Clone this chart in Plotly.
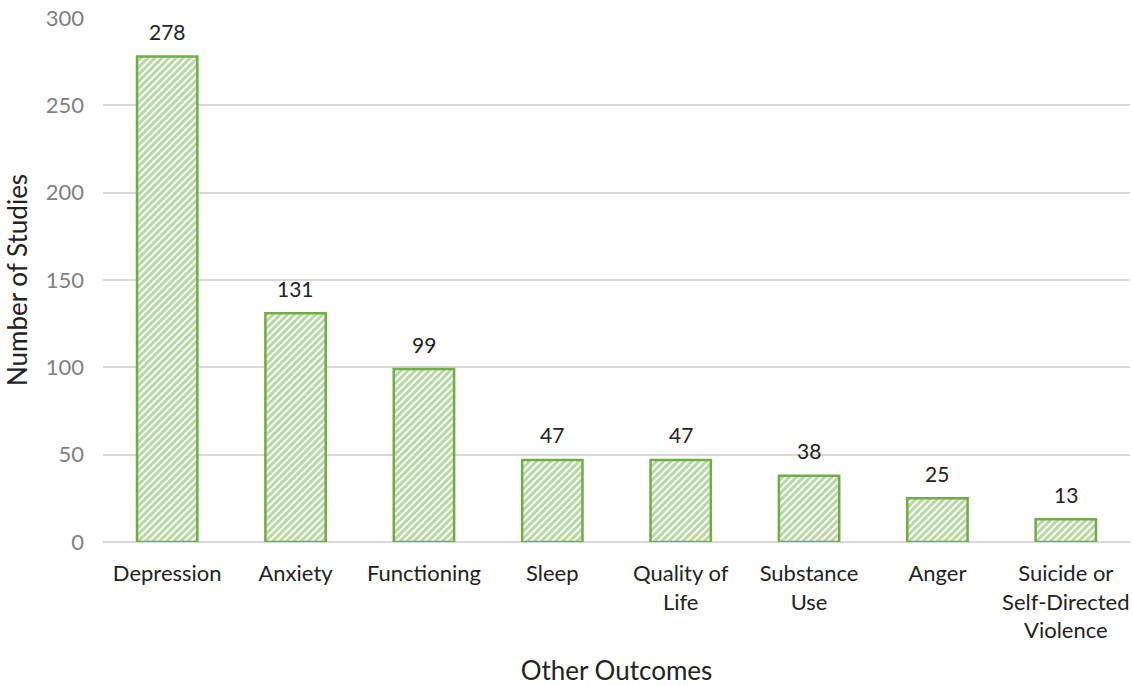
import plotly.graph_objects as go

categories = ["Depression", "Anxiety", "Functioning", "Sleep", "Quality of<br>Life",
              "Substance<br>Use", "Anger", "Suicide or<br>Self-Directed<br>Violence"]
studies = [278, 131, 99, 47, 47, 38, 25, 13]
y_ticks = [0, 50, 100, 150, 200, 250, 300]

GREEN = "#70ad47"
FONT = "Lato, 'Open Sans', sans-serif"

fig = go.Figure(
    go.Bar(
        x=categories,
        y=studies,
        marker=dict(
            color="white",
            line=dict(color=GREEN, width=2.5),
            pattern=dict(shape="/", fgcolor=GREEN, bgcolor="white",
                         size=5, solidity=0.6, fillmode="overlay"),
        ),
        width=0.47,
    )
)

for cat, val in zip(categories, studies):
    fig.add_annotation(x=cat, y=val, text=str(val), showarrow=False,
                       yshift=25, font=dict(size=21, color="#222", family=FONT))

fig.update_layout(
    width=1133, height=686,
    margin=dict(l=103, r=3, t=18, b=144),
    plot_bgcolor="white", paper_bgcolor="white",
    showlegend=False,
    font=dict(family=FONT),
    xaxis=dict(
        tickfont=dict(size=22, color="#222"),
        ticklabelstandoff=16,
        title=dict(text="Other Outcomes", font=dict(size=26, color="#222"), standoff=22),
        showgrid=False, showline=False, ticks="",
    ),
    yaxis=dict(
        range=[0, 300], tickvals=y_ticks,
        tickfont=dict(size=22, color="#7f7f7f"),
        ticklabelstandoff=18,
        title=dict(text="Number of Studies", font=dict(size=26, color="#222"), standoff=10),
        showgrid=True, gridcolor="#d9d9d9", gridwidth=1.5,
        zeroline=True, zerolinecolor="#d9d9d9", zerolinewidth=1.5,
        ticks="", showline=False,
    ),
)

fig.write_html("out.html")
